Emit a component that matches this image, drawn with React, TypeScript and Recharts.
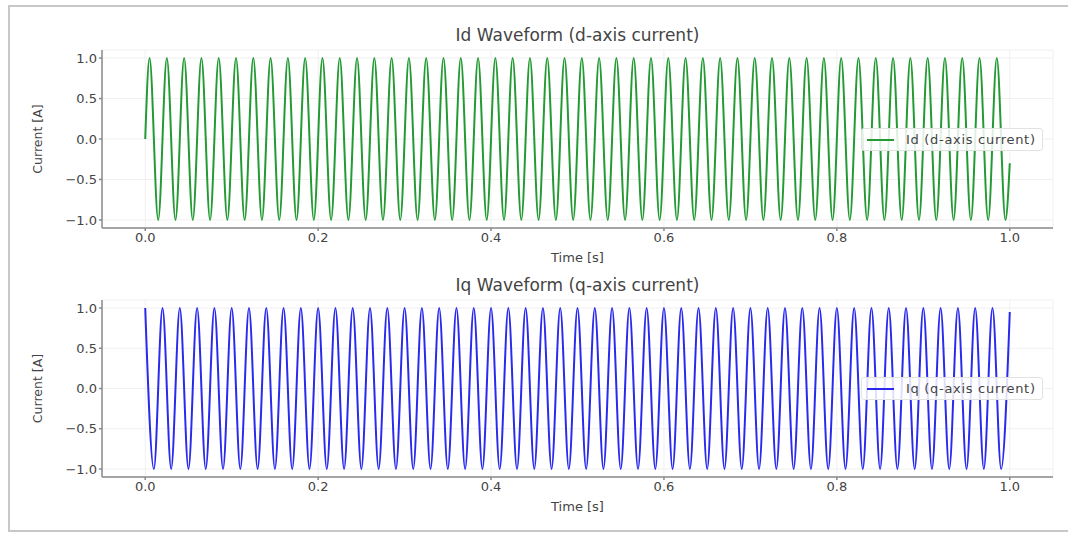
import React from 'react';
import { LineChart, Line, XAxis, YAxis, CartesianGrid, Legend, Label } from 'recharts';

// sample times of the extremes (plus start / end points)
const ID_T = [
  0,
  0.005, 0.015, 0.025, 0.035, 0.045, 0.055, 0.065, 0.075, 0.085, 0.095,
  0.105, 0.115, 0.125, 0.135, 0.145, 0.155, 0.165, 0.175, 0.185, 0.195,
  0.205, 0.215, 0.225, 0.235, 0.245, 0.255, 0.265, 0.275, 0.285, 0.295,
  0.305, 0.315, 0.325, 0.335, 0.345, 0.355, 0.365, 0.375, 0.385, 0.395,
  0.405, 0.415, 0.425, 0.435, 0.445, 0.455, 0.465, 0.475, 0.485, 0.495,
  0.505, 0.515, 0.525, 0.535, 0.545, 0.555, 0.565, 0.575, 0.585, 0.595,
  0.605, 0.615, 0.625, 0.635, 0.645, 0.655, 0.665, 0.675, 0.685, 0.695,
  0.705, 0.715, 0.725, 0.735, 0.745, 0.755, 0.765, 0.775, 0.785, 0.795,
  0.805, 0.815, 0.825, 0.835, 0.845, 0.855, 0.865, 0.875, 0.885, 0.895,
  0.905, 0.915, 0.925, 0.935, 0.945, 0.955, 0.965, 0.975, 0.985, 0.995,
  1.0,
];
const ID_V = [
  0,
  1, -1, 1, -1, 1, -1, 1, -1, 1, -1,
  1, -1, 1, -1, 1, -1, 1, -1, 1, -1,
  1, -1, 1, -1, 1, -1, 1, -1, 1, -1,
  1, -1, 1, -1, 1, -1, 1, -1, 1, -1,
  1, -1, 1, -1, 1, -1, 1, -1, 1, -1,
  1, -1, 1, -1, 1, -1, 1, -1, 1, -1,
  1, -1, 1, -1, 1, -1, 1, -1, 1, -1,
  1, -1, 1, -1, 1, -1, 1, -1, 1, -1,
  1, -1, 1, -1, 1, -1, 1, -1, 1, -1,
  1, -1, 1, -1, 1, -1, 1, -1, 1, -1,
  -0.3,
];

const IQ_T = [
  0.0, 0.01, 0.02, 0.03, 0.04, 0.05, 0.06, 0.07, 0.08, 0.09,
  0.1, 0.11, 0.12, 0.13, 0.14, 0.15, 0.16, 0.17, 0.18, 0.19,
  0.2, 0.21, 0.22, 0.23, 0.24, 0.25, 0.26, 0.27, 0.28, 0.29,
  0.3, 0.31, 0.32, 0.33, 0.34, 0.35, 0.36, 0.37, 0.38, 0.39,
  0.4, 0.41, 0.42, 0.43, 0.44, 0.45, 0.46, 0.47, 0.48, 0.49,
  0.5, 0.51, 0.52, 0.53, 0.54, 0.55, 0.56, 0.57, 0.58, 0.59,
  0.6, 0.61, 0.62, 0.63, 0.64, 0.65, 0.66, 0.67, 0.68, 0.69,
  0.7, 0.71, 0.72, 0.73, 0.74, 0.75, 0.76, 0.77, 0.78, 0.79,
  0.8, 0.81, 0.82, 0.83, 0.84, 0.85, 0.86, 0.87, 0.88, 0.89,
  0.9, 0.91, 0.92, 0.93, 0.94, 0.95, 0.96, 0.97, 0.98, 0.99,
  1.0,
];
const IQ_V = [
  1, -1, 1, -1, 1, -1, 1, -1, 1, -1,
  1, -1, 1, -1, 1, -1, 1, -1, 1, -1,
  1, -1, 1, -1, 1, -1, 1, -1, 1, -1,
  1, -1, 1, -1, 1, -1, 1, -1, 1, -1,
  1, -1, 1, -1, 1, -1, 1, -1, 1, -1,
  1, -1, 1, -1, 1, -1, 1, -1, 1, -1,
  1, -1, 1, -1, 1, -1, 1, -1, 1, -1,
  1, -1, 1, -1, 1, -1, 1, -1, 1, -1,
  1, -1, 1, -1, 1, -1, 1, -1, 1, -1,
  1, -1, 1, -1, 1, -1, 1, -1, 1, -1,
  0.95,
];

const X_TICKS = [0, 0.2, 0.4, 0.6, 0.8, 1.0];
const Y_TICKS = [-1, -0.5, 0, 0.5, 1];

const FONT = '"DejaVu Sans", Verdana, sans-serif';
const TEXT = '#444';
const SPINE = '#8a8a8a';

const fmt = (v: number) => v.toFixed(1).replace('-', '\u2212');

const idData = ID_T.map((t, i) => ({ t, v: ID_V[i] }));
const iqData = IQ_T.map((t, i) => ({ t, v: IQ_V[i] }));

const legendBox = (label: string, color: string) => () => (
  <div
    style={{
      display: 'flex',
      alignItems: 'center',
      background: 'rgba(255,255,255,0.85)',
      border: '1px solid #e2e2e2',
      borderRadius: 3,
      padding: '3px 6px 3px 5px',
      fontFamily: FONT,
      fontSize: 13,
      letterSpacing: 0.7,
      color: TEXT,
      whiteSpace: 'nowrap',
    }}
  >
    <span style={{ display: 'inline-block', width: 27, height: 0, borderTop: `2px solid ${color}`, marginRight: 12 }} />
    {label}
  </div>
);

interface PanelProps {
  data: { t: number; v: number }[];
  color: string;
  title: string;
  label: string;
  height: number;
  bottom: number;
  legendTop: number;
}

const Panel = ({ data, color, title, label, height, bottom, legendTop }: PanelProps) => (
  <div style={{ position: 'relative', width: 1068, height }}>
    <div
      style={{
        position: 'absolute',
        top: 25,
        left: 102,
        width: 951,
        textAlign: 'center',
        fontFamily: FONT,
        fontSize: 17,
        color: TEXT,
      }}
    >
      {title}
    </div>
    <LineChart width={1068} height={height} data={data} margin={{ top: 50, right: 15, left: 42, bottom }}>
      <CartesianGrid stroke="#f0f0f0" strokeWidth={1} />
      <XAxis
        dataKey="t"
        type="number"
        domain={[-0.05, 1.05]}
        ticks={X_TICKS}
        tickFormatter={fmt}
        allowDataOverflow
        height={30}
        stroke={SPINE}
        strokeWidth={1.5}
        tickSize={3}
        tick={{ fill: TEXT, fontSize: 13, fontFamily: FONT }}
      >
        <Label value="Time [s]" position="insideBottom" offset={-4} style={{ fill: TEXT, fontSize: 13, fontFamily: FONT }} />
      </XAxis>
      <YAxis
        type="number"
        domain={[-1.1, 1.1]}
        ticks={Y_TICKS}
        tickFormatter={fmt}
        allowDataOverflow
        width={60}
        stroke={SPINE}
        strokeWidth={1.5}
        tickSize={3}
        tick={{ fill: TEXT, fontSize: 13, fontFamily: FONT }}
      >
        <Label
          value="Current [A]"
          angle={-90}
          position="insideLeft"
          offset={-4}
          style={{ fill: TEXT, fontSize: 12.5, fontFamily: FONT, textAnchor: 'middle' }}
        />
      </YAxis>
      <Legend
        layout="horizontal"
        verticalAlign="middle"
        align="center"
        content={legendBox(label, color)}
        wrapperStyle={{ position: 'absolute', left: 861, top: legendTop, width: 'auto' }}
      />
      <Line
        type="monotone"
        dataKey="v"
        name={label}
        stroke={color}
        strokeWidth={2}
        dot={false}
        isAnimationActive={false}
      />
    </LineChart>
  </div>
);

export default function App() {
  return (
    <div
      style={{
        position: 'absolute',
        top: 0,
        left: 0,
        width: 1068,
        height: 536,
        background: '#fff',
        overflow: 'hidden',
      }}
    >
      <div
        style={{
          position: 'absolute',
          top: 5,
          left: 8,
          width: 1080,
          height: 527,
          border: '2px solid #c8c8c8',
          boxSizing: 'border-box',
        }}
      />
      <div style={{ position: 'absolute', top: 0, left: 0 }}>
        <Panel data={idData} color="#239a33" title="Id Waveform (d-axis current)" label="Id (d-axis current)" height={268} bottom={10} legendTop={128} />
      </div>
      <div style={{ position: 'absolute', top: 250, left: 0 }}>
        <Panel data={iqData} color="#2a2aee" title="Iq Waveform (q-axis current)" label="Iq (q-axis current)" height={286} bottom={29} legendTop={127} />
      </div>
    </div>
  );
}
